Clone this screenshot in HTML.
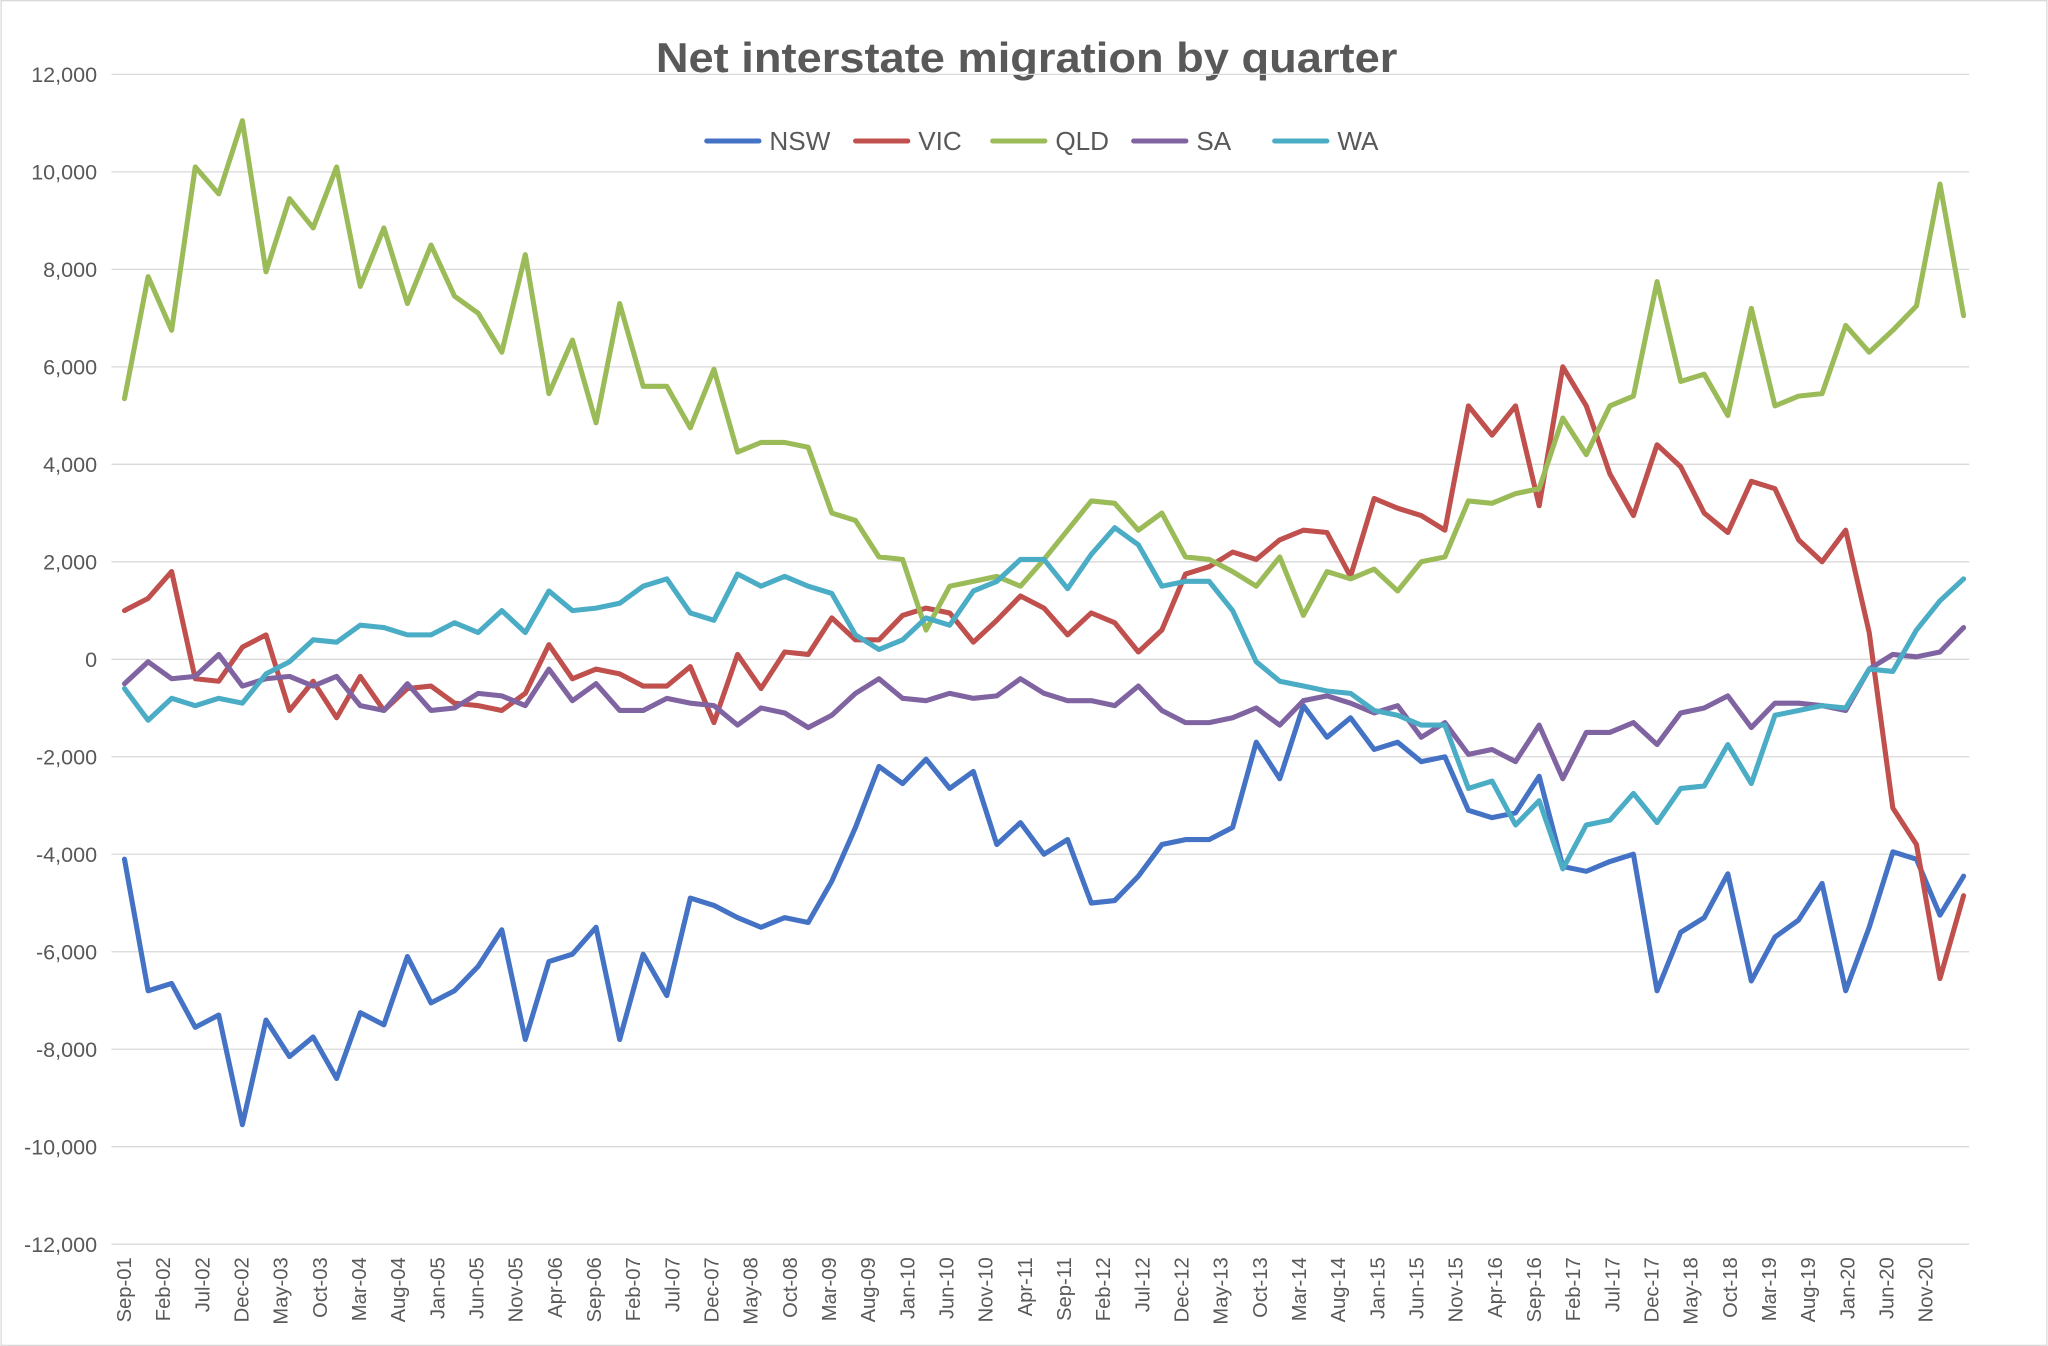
<!DOCTYPE html>
<html><head><meta charset="utf-8">
<style>
html,body{margin:0;padding:0;background:#fff;}
svg{display:block;font-family:"Liberation Sans",sans-serif;}
</style></head>
<body>
<svg id="chart" width="2048" height="1346" viewBox="0 0 1568 1031" xmlns="http://www.w3.org/2000/svg">
<rect x="0.5" y="0.5" width="1567" height="1030" fill="#fff" stroke="#d9d9d9"/>
<text x="786" y="55" text-anchor="middle" font-size="32" font-weight="bold" fill="#595959" textLength="568" lengthAdjust="spacingAndGlyphs">Net interstate migration by quarter</text>
<g id="grid"></g>
<g id="yticks"></g>
<g id="xticks"></g>
<g id="series"></g>
<g id="legend"></g>
</svg>
<script>
const seriesNames = ["NSW","VIC","QLD","SA","WA"];
const seriesColors = ["#4472C4","#C0504D","#9BBB59","#8064A2","#4BACC6"];
const nsw = [-4100,-6800,-6650,-7550,-7300,-9550,-7400,-8150,-7750,-8600,-7250,-7500,-6100,-7050,-6800,-6300,-5550,-7800,-6200,-6050,-5500,-7800,-6050,-6900,-4900,-5050,-5300,-5500,-5300,-5400,-4550,-3450,-2200,-2550,-2050,-2650,-2300,-3800,-3350,-4000,-3700,-5000,-4950,-4450,-3800,-3700,-3700,-3450,-1700,-2450,-950,-1600,-1200,-1850,-1700,-2100,-2000,-3100,-3250,-3150,-2400,-4250,-4350,-4150,-4000,-6800,-5600,-5300,-4400,-6600,-5700,-5350,-4600,-6800,-5500,-3950,-4100,-5250,-4450];
const vic = [1000,1250,1800,-400,-450,250,500,-1050,-450,-1200,-350,-1050,-600,-550,-900,-950,-1050,-700,300,-400,-200,-300,-550,-550,-150,-1300,100,-600,150,100,850,400,400,900,1050,950,350,800,1300,1050,500,950,750,150,600,1750,1900,2200,2050,2450,2650,2600,1700,3300,3100,2950,2650,5200,4600,5200,3150,6000,5200,3800,2950,4400,3950,3000,2600,3650,3500,2450,2000,2650,550,-3050,-3800,-6550,-4850];
const qld = [5350,7850,6750,10100,9550,11050,7950,9450,8850,10100,7650,8850,7300,8500,7450,7100,6300,8300,5450,6550,4850,7300,5600,5600,4750,5950,4250,4450,4450,4350,3000,2850,2100,2050,600,1500,1600,1700,1500,2050,2650,3250,3200,2650,3000,2100,2050,1800,1500,2100,900,1800,1650,1850,1400,2000,2100,3250,3200,3400,3500,4950,4200,5200,5400,7750,5700,5850,5000,7200,5200,5400,5450,6850,6300,6750,7250,9750,7050];
const sa = [-500,-50,-400,-350,100,-550,-400,-350,-550,-350,-950,-1050,-500,-1050,-1000,-700,-750,-950,-200,-850,-500,-1050,-1050,-800,-900,-950,-1350,-1000,-1100,-1400,-1150,-700,-400,-800,-850,-700,-800,-750,-400,-700,-850,-850,-950,-550,-1050,-1300,-1300,-1200,-1000,-1350,-850,-750,-900,-1100,-950,-1600,-1300,-1950,-1850,-2100,-1350,-2450,-1500,-1500,-1300,-1750,-1100,-1000,-750,-1400,-900,-900,-950,-1050,-200,100,50,150,650];
const wa = [-600,-1250,-800,-950,-800,-900,-300,-50,400,350,700,650,500,500,750,550,1000,550,1400,1000,1050,1150,1500,1650,950,800,1750,1500,1700,1500,1350,500,200,400,850,700,1400,1600,2050,2050,1450,2150,2700,2350,1500,1600,1600,1000,-50,-450,-550,-650,-700,-1050,-1150,-1350,-1350,-2650,-2500,-3400,-2900,-4300,-3400,-3300,-2750,-3350,-2650,-2600,-1750,-2550,-1150,-1050,-950,-1000,-200,-250,600,1200,1650];
const yTicks = [12000,10000,8000,6000,4000,2000,0,-2000,-4000,-6000,-8000,-10000,-12000];
const xLabels = ["Sep-01","Feb-02","Jul-02","Dec-02","May-03","Oct-03","Mar-04","Aug-04","Jan-05","Jun-05","Nov-05","Apr-06","Sep-06","Feb-07","Jul-07","Dec-07","May-08","Oct-08","Mar-09","Aug-09","Jan-10","Jun-10","Nov-10","Apr-11","Sep-11","Feb-12","Jul-12","Dec-12","May-13","Oct-13","Mar-14","Aug-14","Jan-15","Jun-15","Nov-15","Apr-16","Sep-16","Feb-17","Jul-17","Dec-17","May-18","Oct-18","Mar-19","Aug-19","Jan-20","Jun-20","Nov-20"];
const allSeries = [nsw,vic,qld,sa,wa];

const NS="http://www.w3.org/2000/svg";
const yScale = v => 505 - v/2000*74.67;
const xLabelMonth = m => 95 + 6*m;
const xQuarter = i => 95 + 6.02*3*i;
function mk(tag, attrs, parent){const e=document.createElementNS(NS,tag);for(const k in attrs)e.setAttribute(k,attrs[k]);parent.appendChild(e);return e;}

const grid=document.getElementById('grid'), yt=document.getElementById('yticks');
yTicks.forEach(v=>{
  const l=mk('line',{x1:85,x2:1508,y1:yScale(v),y2:yScale(v),stroke:'#d9d9d9','stroke-width':1},grid);
  
  
  const t=mk('text',{x:74,y:yScale(v)+6,'text-anchor':'end','font-size':16.5,fill:'#595959'},yt);
  t.textContent=v.toLocaleString('en-US');
  
  
});
const xt=document.getElementById('xticks');
xLabels.forEach((s,k)=>{
  const x=xLabelMonth(5*k)+5;
  const t=mk('text',{x:0,y:0,transform:`translate(${x},963) rotate(-90)`,'text-anchor':'end','font-size':15.5,fill:'#595959'},xt);
  t.textContent=s;
  
  
});
const sg=document.getElementById('series');
allSeries.forEach((arr,si)=>{
  const pts=arr.map((v,i)=>xQuarter(i).toFixed(1)+','+yScale(v).toFixed(1)).join(' ');
  const p=mk('polyline',{points:pts,fill:'none',stroke:seriesColors[si],'stroke-width':3.9,'stroke-linejoin':'round','stroke-linecap':'round'},sg);
  
  
});
const lg=document.getElementById('legend');
const legX=[541,655,760,868,976];
seriesNames.forEach((n,i)=>{
  const g=mk('g',{},lg);
  
  
  mk('line',{x1:legX[i],x2:legX[i]+40,y1:108,y2:108,stroke:seriesColors[i],'stroke-width':3.9,'stroke-linecap':'round'},g);
  const t=mk('text',{x:legX[i]+48,y:115,'font-size':20,fill:'#595959'},g);
  t.textContent=n;
});
</script>
</body></html>
